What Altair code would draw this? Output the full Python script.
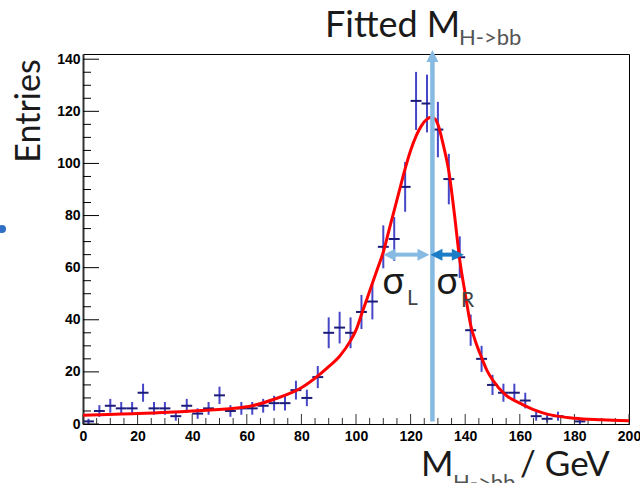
import altair as alt
import numpy as np
import pandas as pd

# ---- histogram (4 GeV bins) ----
bin_centers = [2, 6, 10, 14, 18, 22, 26, 30, 34, 38, 42, 46, 50, 54, 58, 62, 66, 70, 74, 78,
               82, 86, 90, 94, 98, 102, 106, 110, 114, 118, 122, 126, 130, 134, 138, 142,
               146, 150, 154, 158, 162, 166, 170, 174, 182]
entries = [1, 5, 7, 6, 6, 12, 6, 6, 3, 7, 4, 6, 11, 5, 6, 6, 7, 8, 8, 13,
           10, 18, 35, 37, 35, 43, 47, 68, 71, 91, 124, 123, 113, 94, 64, 36,
           25, 15, 12, 12, 9, 3, 2, 3, 1]
bin_half_width = 2

# ---- fitted curve ----
curve_mass = [0, 20, 40, 60, 70, 80, 90, 94, 98, 100, 102, 104, 106, 108, 110, 112, 114, 116,
              118, 120, 122, 124, 126, 127.5, 129, 130, 132, 134, 136, 138, 140, 142, 144,
              146, 148, 150, 155, 160, 165, 170, 180, 190, 200]
curve_entries = [3.4, 4, 5, 6.6, 9.5, 13.9, 22, 26, 32, 36, 42, 48, 54, 60, 66, 74, 82, 90,
                 98, 105, 110.5, 114.5, 117, 117.7, 117, 115, 107, 97, 81, 63, 50, 38, 31,
                 25.5, 20.5, 17, 11, 8, 5.5, 3.8, 2.2, 1.6, 1.2]

# ---- axis ticks ----
y_major_ticks = [0, 20, 40, 60, 80, 100, 120, 140]
y_minor_ticks = [v for v in range(5, 141, 5) if v % 20 != 0]
x_major_ticks = [0, 20, 40, 60, 80, 100, 120, 140, 160, 180, 200]
x_minor_ticks = [v for v in range(5, 200, 5) if v % 20 != 0]

# ---- fit annotation ----
fit_mean = 128
sigma_left_edge = 110
sigma_right_edge = 139.5
sigma_level = 65

W, H = 546, 370
xs = alt.Scale(domain=[0, 200], nice=False, zero=False)
ys = alt.Scale(domain=[0, 142], nice=False, zero=False)

XA = alt.Axis(values=x_major_ticks, labelPadding=5, labelFlush=False, labelOverlap=False,
              labelFont="Liberation Sans", labelFontWeight="bold", labelFontSize=14,
              labelColor="black", ticks=False, tickSize=0, grid=False, title=None,
              domainColor="black", domainWidth=1)
YA = alt.Axis(values=y_major_ticks, labelPadding=3, labelOverlap=False,
              labelFont="Liberation Sans", labelFontWeight="bold", labelFontSize=14,
              labelColor="black", ticks=False, tickSize=0, grid=False, title=None,
              domainColor="#333333", domainWidth=2)

hist = pd.DataFrame({"mass": bin_centers, "n": entries})
hist["lo"] = hist["n"] - np.sqrt(hist["n"])
hist["hi"] = hist["n"] + np.sqrt(hist["n"])
hist["left"] = hist["mass"] - bin_half_width
hist["right"] = hist["mass"] + bin_half_width
curve = pd.DataFrame({"mass": curve_mass, "fit": curve_entries})

vbars = alt.Chart(hist).mark_rule(color="#4646C8", strokeWidth=2).encode(
    x=alt.X("mass:Q", scale=xs, axis=XA),
    y=alt.Y("lo:Q", scale=ys, axis=YA),
    y2="hi:Q",
)
hbars = alt.Chart(hist).mark_rule(color="#1B1B7A", strokeWidth=2).encode(
    x=alt.X("left:Q", scale=xs, axis=XA), x2="right:Q",
    y=alt.Y("n:Q", scale=ys, axis=YA),
)
fit = alt.Chart(curve).mark_line(color="#FF0000", strokeWidth=3, interpolate="monotone").encode(
    x=alt.X("mass:Q", scale=xs, axis=XA), y=alt.Y("fit:Q", scale=ys, axis=YA),
)

def ticks_y(vals, length):
    return alt.Chart(pd.DataFrame({"v": vals})).mark_rule(color="black", strokeWidth=1).encode(
        y=alt.Y("v:Q", scale=ys, axis=YA), x=alt.value(0), x2=alt.value(length))

def ticks_x(vals, length):
    return alt.Chart(pd.DataFrame({"v": vals})).mark_rule(color="#333333", strokeWidth=1).encode(
        x=alt.X("v:Q", scale=xs, axis=XA), y=alt.value(H), y2=alt.value(H - length))

one = pd.DataFrame({"k": [0]})
LIGHT = "#86BAE2"
DARK = "#1C7DC6"
HEAD_UP = "M0,0L-1,2L1,2Z"
HEAD_LEFT = "M0,0L2,-1L2,1Z"
HEAD_RIGHT = "M0,0L-2,-1L-2,1Z"

def dx(v):
    return alt.X(datum=v, scale=xs, axis=XA)

def dy(v):
    return alt.Y(datum=v, scale=ys, axis=YA)

vline = alt.Chart(one).mark_rule(color=LIGHT, strokeWidth=4.5).encode(
    x=dx(fit_mean), y=dy(1), y2=alt.value(8))
vhead = alt.Chart(one).mark_point(shape=HEAD_UP, filled=True, opacity=1, color=LIGHT, size=144,
                                  strokeWidth=0).encode(x=dx(fit_mean), y=alt.value(-4))

lshaft = alt.Chart(one).mark_rule(color=LIGHT, strokeWidth=4, xOffset=8, x2Offset=-10).encode(
    x=dx(sigma_left_edge), x2=alt.datum(fit_mean), y=dy(sigma_level))
lhead1 = alt.Chart(one).mark_point(shape=HEAD_LEFT, filled=True, opacity=1, color=LIGHT, size=144,
                                   strokeWidth=0).encode(x=dx(sigma_left_edge), y=dy(sigma_level))
lhead2 = alt.Chart(one).mark_point(shape=HEAD_RIGHT, filled=True, opacity=1, color=LIGHT, size=144,
                                   strokeWidth=0, xOffset=-3).encode(x=dx(fit_mean), y=dy(sigma_level))
rshaft = alt.Chart(one).mark_rule(color=DARK, strokeWidth=4, xOffset=8, x2Offset=-8).encode(
    x=dx(fit_mean), x2=alt.datum(sigma_right_edge), y=dy(sigma_level))
rhead1 = alt.Chart(one).mark_point(shape=HEAD_LEFT, filled=True, opacity=1, color=DARK, size=144,
                                   strokeWidth=0, xOffset=-2).encode(x=dx(fit_mean), y=dy(sigma_level))
rhead2 = alt.Chart(one).mark_point(shape=HEAD_RIGHT, filled=True, opacity=1, color=DARK, size=144,
                                   strokeWidth=0).encode(x=dx(sigma_right_edge), y=dy(sigma_level))

def txt(s, x, y, size, color="#1a1a1a", font="Lato", angle=0, align="left"):
    kw = dict(text=s, font=font, fontSize=size, color=color, align=align, baseline="alphabetic")
    if angle:
        kw["angle"] = angle
    return alt.Chart(one).mark_text(**kw).encode(x=alt.value(x), y=alt.value(y))

texts = [
    txt("Entries", -43, 57, 34, angle=270, align="center"),
    txt("Fitted M", 242, -17, 36),
    txt("H->bb", 376, -9, 22, color="#555555"),
    txt("σ", 299, 240, 37, font="Noto Sans"),
    txt("L", 324, 251, 21, color="#444444"),
    txt("σ", 353, 240, 37, font="Noto Sans"),
    txt("R", 378, 253, 21, color="#444444"),
    txt("M", 338, 422, 35),
    txt("H->bb", 370, 436, 22, color="#555555"),
    txt("/ GeV", 437, 422, 35),
]
bullet = alt.Chart(one).mark_point(shape="circle", filled=True, opacity=1, color="#2F6FC4",
                                   size=64).encode(x=alt.value(-81), y=alt.value(175))

chart = alt.layer(
    vbars, hbars,
    ticks_y(y_major_ticks, 16), ticks_y(y_minor_ticks, 8),
    ticks_x(x_major_ticks, 10), ticks_x(x_minor_ticks, 6),
    fit, vline, vhead, lshaft, lhead1, lhead2, rshaft, rhead1, rhead2,
    *texts, bullet,
).properties(
    width=W, height=H,
    autosize=alt.AutoSizeParams(type="none"),
    padding={"left": 83, "top": 54, "right": 11, "bottom": 59},
    background="white",
).configure_view(stroke="black", strokeWidth=1)

chart.save("out.html", embed_options={"renderer": "svg", "actions": False})
